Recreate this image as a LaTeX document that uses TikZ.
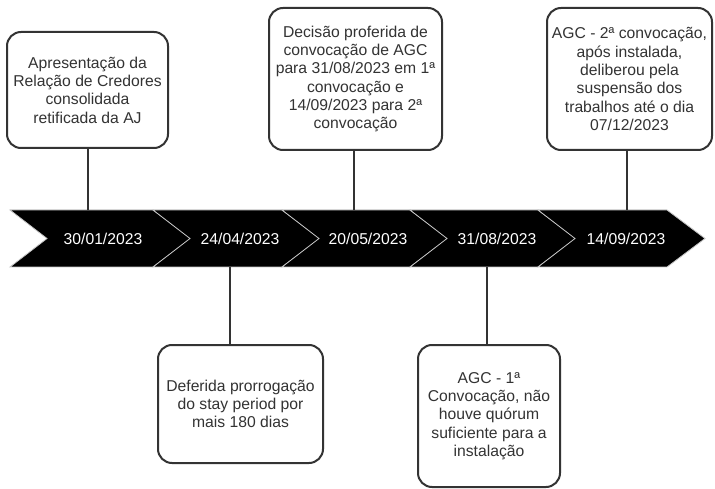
\documentclass[tikz,border=0pt]{standalone}
\usepackage{fontspec}
\setmainfont{Liberation Sans}
\usepackage{tikz}
\definecolor{escuro}{HTML}{333333}
\definecolor{borda}{HTML}{C8C8C8}

\begin{document}
\begin{tikzpicture}[x=1pt,y=-1pt,
	caixa/.style={draw=escuro,line width=2pt,rounded corners=14pt,fill=white,text=escuro,align=center,inner sep=0pt,font=\fontsize{15.7}{18.3}\selectfont},
	data/.style={text=white,font=\fontsize{15.7}{18.3}\selectfont},
	haste/.style={draw=escuro,line width=1.5pt}]

	\fill[white] (0,0) rectangle (715,489);

	% faixa de setas
	\foreach \l/\r in {10/153,153/282,282/410,410/538,538/667}
		\filldraw[fill=black,draw=borda,line width=.8pt] (\l,210) -- (\r,210) -- (\r+38,238.5) -- (\r,267) -- (\l,267) -- (\l+37,238.5) -- cycle;

	% pontos de ligacao na faixa
	\coordinate (s1) at (88,210);
	\coordinate (s2) at (230,267);
	\coordinate (s3) at (354,210);
	\coordinate (s4) at (487,267);
	\coordinate (s5) at (627,210);

	% caixas de cima
	\node[caixa,minimum width=161pt,minimum height=116pt] (b1) at (87.5,90) {Apresentação da\\Relação de Credores\\consolidada\\retificada da AJ};
	\node[caixa,minimum width=173pt,minimum height=142pt] (b3) at (355.5,79) {Decisão proferida de\\convocação de AGC\\para 31/08/2023 em 1ª\\convocação e\\14/09/2023 para 2ª\\convocação};
	\node[caixa,minimum width=165pt,minimum height=142pt] (b5) at (629.5,79) {AGC - 2ª convocação,\\após instalada,\\deliberou pela\\suspensão dos\\trabalhos até o dia\\07/12/2023};

	% caixas de baixo
	\node[caixa,minimum width=165pt,minimum height=118pt] (b2) at (240.5,404) {Deferida prorrogação\\do stay period por\\mais 180 dias};
	\node[caixa,minimum width=142pt,minimum height=142pt] (b4) at (489,416) {AGC - 1ª\\Convocação, não\\houve quórum\\suficiente para a\\instalação};

	% hastes
	\draw[haste] (b1.south -| s1) -- (s1);
	\draw[haste] (b2.north -| s2) -- (s2);
	\draw[haste] (b3.south -| s3) -- (s3);
	\draw[haste] (b4.north -| s4) -- (s4);
	\draw[haste] (b5.south -| s5) -- (s5);

	% datas
	\node[data] (d1) at (103,238.5) {30/01/2023};
	\node[data] (d2) at (240,238.5) {24/04/2023};
	\node[data] (d3) at (368,238.5) {20/05/2023};
	\node[data] (d4) at (497,238.5) {31/08/2023};
	\node[data] (d5) at (626,238.5) {14/09/2023};

\end{tikzpicture}
\end{document}
